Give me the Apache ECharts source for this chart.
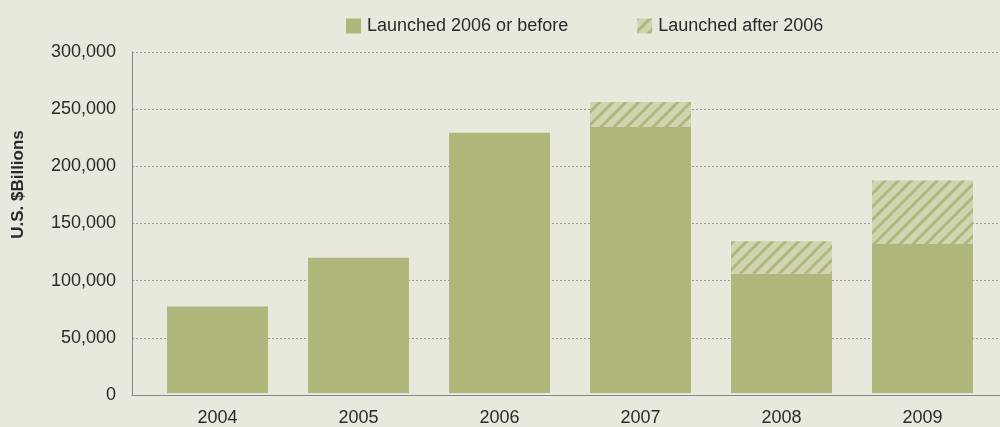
<!DOCTYPE html>
<html>
<head>
<meta charset="utf-8">
<script src="https://cdn.jsdelivr.net/npm/echarts@6/dist/echarts.min.js"></script>
<style>
html,body{margin:0;padding:0;background:#e8e8dc;}
#c{width:1000px;height:427px;}
</style>
</head>
<body>
<div id="c"></div>
<script>
const categories = ['2004', '2005', '2006', '2007', '2008', '2009'];
const launchedBefore = [76000, 119000, 229000, 234000, 105000, 131000];
const launchedAfter = ['-', '-', '-', 22000, 28500, 56000];
const seriesNames = ['Launched 2006 or before', 'Launched after 2006'];
const yTitle = 'U.S. $Billions';

const solidColor = '#b0b67a';
const hatchBg = '#d1d4b1';

function makeHatch() {
  const p = 13;
  const cv = document.createElement('canvas');
  cv.width = p; cv.height = p;
  const ctx = cv.getContext('2d');
  ctx.fillStyle = hatchBg;
  ctx.fillRect(0, 0, p, p);
  ctx.strokeStyle = solidColor;
  ctx.lineWidth = 2.9;
  ctx.beginPath();
  ctx.moveTo(-2, p + 2); ctx.lineTo(p + 2, -2);
  ctx.moveTo(-3, 3); ctx.lineTo(3, -3);
  ctx.moveTo(p - 3, p + 3); ctx.lineTo(p + 3, p - 3);
  ctx.stroke();
  return cv;
}
const hatch = { image: makeHatch(), repeat: 'repeat' };

const font = '"Liberation Sans", Arial, sans-serif';
const chart = echarts.init(document.getElementById('c'));
chart.setOption({
  backgroundColor: '#e8e8dc',
  animation: false,
  textStyle: { fontFamily: font },
  legend: {
    left: 341, top: 12,
    itemWidth: 15, itemHeight: 15, itemGap: 69,
    icon: 'rect',
    textStyle: { fontSize: 18, color: '#2a2a2a', fontFamily: font, padding: [0, 0, 0, 1] },
    data: seriesNames
  },
  grid: [
    { left: 132, right: 0, top: 52, bottom: 32 },
    { left: 147, right: 7, top: 52, bottom: 32 }
  ],
  xAxis: [
    {
      gridIndex: 0, type: 'category', data: categories,
      axisLine: { show: true, lineStyle: { color: '#888', width: 1 } },
      axisTick: { show: false }, axisLabel: { show: false }, splitLine: { show: false }
    },
    {
      gridIndex: 1, type: 'category', data: categories,
      axisLine: { show: false }, axisTick: { show: false },
      axisLabel: { fontSize: 18, color: '#2a2a2a', margin: 16, fontFamily: font }
    }
  ],
  yAxis: [
    {
      gridIndex: 0, type: 'value', min: 0, max: 300000, interval: 50000,
      axisLine: { show: true, lineStyle: { color: '#888', width: 1 } },
      axisTick: { show: false },
      axisLabel: {
        fontSize: 18, color: '#2a2a2a', margin: 16, fontFamily: font,
        formatter: v => v.toLocaleString('en-US')
      },
      splitLine: { show: true, lineStyle: { color: '#9a9a9a', type: [2, 2], width: 1 } },
      name: yTitle, nameLocation: 'middle', nameRotate: 90, nameGap: 105,
      nameTextStyle: { fontSize: 17, fontWeight: 'bold', color: '#2a2a2a', fontFamily: font, padding: [0, 0, 0, 78] }
    },
    {
      gridIndex: 1, type: 'value', min: 0, max: 300000, interval: 50000,
      show: false, splitLine: { show: false }
    }
  ],
  series: [
    {
      name: seriesNames[0], type: 'bar', stack: 'total',
      xAxisIndex: 1, yAxisIndex: 1,
      data: launchedBefore, barCategoryGap: '28.4%',
      itemStyle: { color: solidColor }
    },
    {
      name: seriesNames[1], type: 'bar', stack: 'total',
      xAxisIndex: 1, yAxisIndex: 1,
      data: launchedAfter, barCategoryGap: '28.4%',
      itemStyle: { color: hatch }
    }
  ]
});
</script>
</body>
</html>
